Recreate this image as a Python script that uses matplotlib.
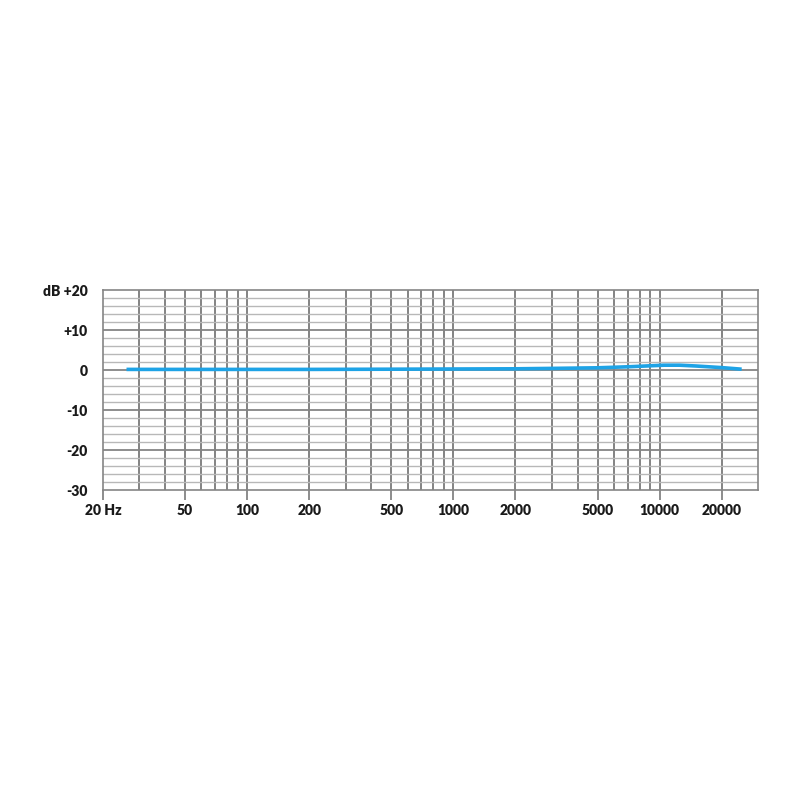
import matplotlib
matplotlib.use("Agg")
import matplotlib.pyplot as plt
import numpy as np

# Data
freqs = [26, 50, 100, 200, 500, 1000, 2000, 3000, 5000, 7000, 9000, 10500, 12500, 15000, 20000, 25000]
levels = [0.15, 0.15, 0.15, 0.15, 0.2, 0.25, 0.3, 0.4, 0.55, 0.8, 1.05, 1.2, 1.2, 1.0, 0.6, 0.2]

x_ticks = [20, 50, 100, 200, 500, 1000, 2000, 5000, 10000, 20000]
x_labels = ["20 Hz", "50", "100", "200", "500", "1000", "2000", "5000", "10000", "20000"]
y_ticks = [-30, -20, -10, 0, 10, 20]
y_labels = ["-30", "-20", "-10", "0", "+10", "dB +20"]

fig = plt.figure(figsize=(8, 8), dpi=100)
ax = fig.add_axes([103/800, 1-490/800, (758-103)/800, 200/800])
ax.set_xscale("log")
ax.set_xlim(20, 30000)
ax.set_ylim(-30, 20)

# vertical grid lines (1-2-3...9 per decade)
vgrid = []
for dec in [10, 100, 1000, 10000]:
    for m in range(1, 10):
        f = m * dec
        if 20 < f < 30000:
            vgrid.append(f)
for f in vgrid:
    ax.axvline(f, color="#6e6e6e", lw=1.2, zorder=1)

# horizontal grid lines every 2 dB, darker at 10 dB
for y in range(-28, 20, 2):
    if y % 10 == 0:
        ax.axhline(y, color="#858585", lw=1.3, zorder=1)
    else:
        ax.axhline(y, color="#b8b8b8", lw=1.0, zorder=1)

ax.plot(freqs, levels, color="#1ea3e6", lw=2.6, zorder=3, solid_capstyle="butt")

for s in ax.spines.values():
    s.set_color("#858585")
    s.set_linewidth(1.2)

ax.set_xticks(x_ticks)
ax.set_xticklabels(x_labels)
ax.xaxis.set_minor_locator(matplotlib.ticker.NullLocator())
ax.set_yticks(y_ticks)
ax.set_yticklabels(y_labels)
ax.tick_params(axis="x", length=7, width=1.1, color="#6e6e6e", pad=3)
ax.tick_params(axis="y", length=0, pad=11)
for lab in ax.get_xticklabels() + ax.get_yticklabels():
    lab.set_family(["Lato", "DejaVu Sans"])
    lab.set_fontweight("heavy")
    lab.set_fontsize(10)
    lab.set_color("#1a1a1a")

fig.savefig("out.png", dpi=100, facecolor="white")
